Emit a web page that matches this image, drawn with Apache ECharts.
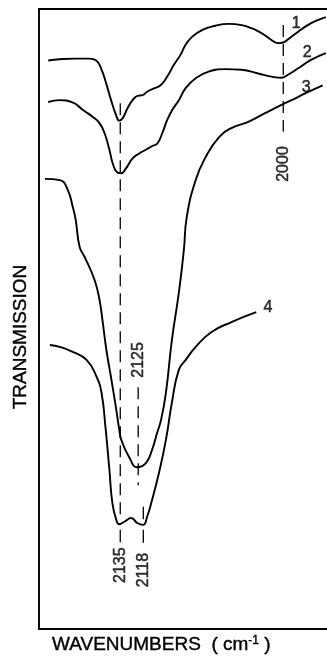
<!DOCTYPE html>
<html>
<head>
<meta charset="utf-8">
<style>
html,body{margin:0;padding:0;background:#fff;}
#c{width:327px;height:656px;}
</style>
<script src="https://cdn.jsdelivr.net/npm/echarts@6/dist/echarts.min.js"></script>
</head>
<body>
<div id="c"></div>
<script>
// IR spectra, wavenumber (cm-1) vs transmission (arbitrary units)
const trace1 = [[2195.3,91.7],[2185.6,91.9],[2173.1,92.0],[2160.7,92.0],[2155.1,91.7],[2151.0,90.4],[2146.8,88.0],[2142.7,85.3],[2138.5,82.9],[2135.8,82.0],[2133.0,82.4],[2128.9,84.0],[2124.7,85.3],[2120.6,86.0],[2116.4,86.1],[2112.3,86.7],[2106.7,87.2],[2101.2,87.7],[2095.7,89.1],[2090.1,91.0],[2084.6,92.6],[2080.4,94.2],[2074.9,95.5],[2066.6,96.6],[2055.5,97.3],[2044.5,97.6],[2033.4,97.4],[2025.1,96.9],[2016.8,96.1],[2008.5,95.0],[2003.0,94.5],[1998.8,94.6],[1994.7,95.1],[1986.4,96.3],[1978.1,97.4],[1969.8,98.2],[1963.0,98.7]];
const trace2 = [[2195.3,85.0],[2185.6,85.3],[2174.5,84.9],[2166.2,83.7],[2157.9,82.6],[2152.4,81.6],[2148.2,80.0],[2144.1,77.3],[2140.8,74.8],[2137.2,73.6],[2134.4,73.5],[2130.2,74.3],[2124.7,75.9],[2119.2,76.7],[2113.6,77.3],[2108.1,77.9],[2104.0,78.3],[2099.8,80.0],[2095.7,82.1],[2091.5,83.7],[2086.0,85.3],[2080.4,87.2],[2072.1,88.8],[2061.1,89.9],[2047.2,90.3],[2033.4,90.2],[2019.6,89.6],[2008.5,89.1],[2000.2,88.9],[1994.7,89.4],[1986.4,90.4],[1975.4,91.8],[1963.0,92.9]];
const trace3 = [[2198.0,72.6],[2185.6,72.4],[2178.9,70.8],[2174.8,68.1],[2172.3,66.0],[2169.0,61.6],[2164.8,60.0],[2156.5,56.3],[2152.4,53.1],[2149.9,49.8],[2146.6,45.0],[2142.4,40.2],[2138.3,35.3],[2135.8,32.1],[2134.1,30.5],[2127.5,27.7],[2120.8,26.1],[2113.4,26.8],[2108.4,28.9],[2104.2,31.6],[2100.9,33.7],[2096.8,38.1],[2091.8,46.6],[2086.0,54.2],[2081.8,61.1],[2079.3,66.5],[2071.9,72.4],[2063.6,76.1],[2052.8,79.2],[2042.0,80.8],[2027.9,81.8],[2013.8,83.2],[2000.5,84.5],[1986.4,85.8],[1978.1,86.6],[1965.6,87.7]];
const trace4 = [[2193.9,45.8],[2185.6,45.5],[2174.8,44.7],[2163.2,43.4],[2154.9,40.7],[2150.7,38.1],[2147.4,32.6],[2144.1,25.7],[2141.6,20.3],[2138.3,17.6],[2135.8,16.9],[2131.6,17.3],[2125.8,17.9],[2120.8,17.1],[2115.9,16.8],[2112.5,18.1],[2108.4,20.8],[2102.6,25.2],[2096.8,30.5],[2091.8,36.5],[2086.0,41.8],[2080.2,43.4],[2071.9,45.5],[2058.6,47.9],[2042.0,49.5],[2021.2,51.1]];

// trace numbers
const traceNames = ['1','2','3','4'];
const traceNameX = [1987.8,1978.6,1979.5,2011.5];
const traceNameY = [97.7,92.9,87.4,51.8];

// peak annotations
const peakNames = ['2135','2125','2118','2000'];
const peakPos   = [2135, 2120, 2115.7, 1998.6];
const peakLabelY = [10.3, 43.4, 9.5, 75.0];
// dashed guide segments: [position, yStart, yEnd]
const dashedGuides = [[2135,84.8,17.4],[2120,39.0,23.2],[1998.6,97.4,80.2]];
// short solid ticks: [position, yStart, yEnd]
const tickMarks = [[2135,16.0,14.0],[2115.7,19.7,17.7],[2115.7,16.0,13.9]];

const INK = '#000';
const FONT = 'Liberation Sans';
const HEAVY = {textBorderColor:INK, textBorderWidth:0.5};

const curveSeries = [trace1,trace2,trace3,trace4].map((d,i)=>({
  type:'line', name:'trace'+(i+1), data:d, showSymbol:false, symbol:'none',
  smooth:0.5,
  lineStyle:{color:INK,width:1.9}, z:3
}));

const guideSeries = dashedGuides.map(g=>({
  type:'line', data:[[g[0],g[1]],[g[0],g[2]]], showSymbol:false, symbol:'none',
  lineStyle:{color:INK,width:1.3,type:[12,7]}, z:2
}));
const tickSeries = tickMarks.map(g=>({
  type:'line', data:[[g[0],g[1]],[g[0],g[2]]], showSymbol:false, symbol:'none',
  lineStyle:{color:INK,width:1.3}, z:2
}));

const peakLabelSeries = {
  type:'scatter', symbolSize:0, z:4,
  data: peakNames.map((n,i)=>({name:n, value:[peakPos[i], peakLabelY[i]]})),
  label:Object.assign({show:true, position:'inside', rotate:90, formatter:p=>p.name,
    color:INK, fontFamily:FONT, fontSize:16}, HEAVY)
};
const traceLabelSeries = {
  type:'scatter', symbolSize:0, z:4,
  data: traceNames.map((n,i)=>({name:n, value:[traceNameX[i], traceNameY[i]]})),
  label:Object.assign({show:true, position:'inside', formatter:p=>p.name,
    color:INK, fontFamily:FONT, fontSize:16}, HEAVY)
};

const frameAxis = {
  type:'value', inverse:true, min:1962, max:2203,
  axisLine:{show:true, onZero:false, lineStyle:{color:INK,width:1.9}},
  axisTick:{show:false}, axisLabel:{show:false}, splitLine:{show:false}
};

const chart = echarts.init(document.getElementById('c'), null, {renderer:'canvas'});
chart.setOption({
  animation:false,
  backgroundColor:'#fff',
  grid:{left:39, top:9, right:-2, bottom:27, show:false},
  xAxis:[Object.assign({position:'bottom'}, frameAxis), Object.assign({position:'top'}, frameAxis)],
  yAxis:{type:'value', min:0, max:100, position:'left',
    axisLine:{show:true, onZero:false, lineStyle:{color:INK,width:1.9}},
    axisTick:{show:false}, axisLabel:{show:false}, splitLine:{show:false}},
  graphic:[
    {type:'text', x:21, y:337, rotation:Math.PI/2, style:Object.assign({
      text:'TRANSMISSION', fill:INK, font:'19px "Liberation Sans"', textAlign:'center', textVerticalAlign:'middle',
      stroke:INK, lineWidth:0.4})},
    {type:'text', x:52, y:645, style:{
      text:'WAVENUMBERS  ( cm{s|-1} {p|)}', fill:INK, fontFamily:FONT, fontSize:19,
      textVerticalAlign:'middle', textAlign:'left', stroke:INK, lineWidth:0.4,
      rich:{s:{fontSize:12, fontFamily:FONT, fill:INK, verticalAlign:'top', padding:[0,0,8,0]},
            p:{fontSize:19, fontFamily:FONT, fill:INK}}}}
  ],
  series:[...guideSeries, ...tickSeries, ...curveSeries, peakLabelSeries, traceLabelSeries]
});
</script>
</body>
</html>
